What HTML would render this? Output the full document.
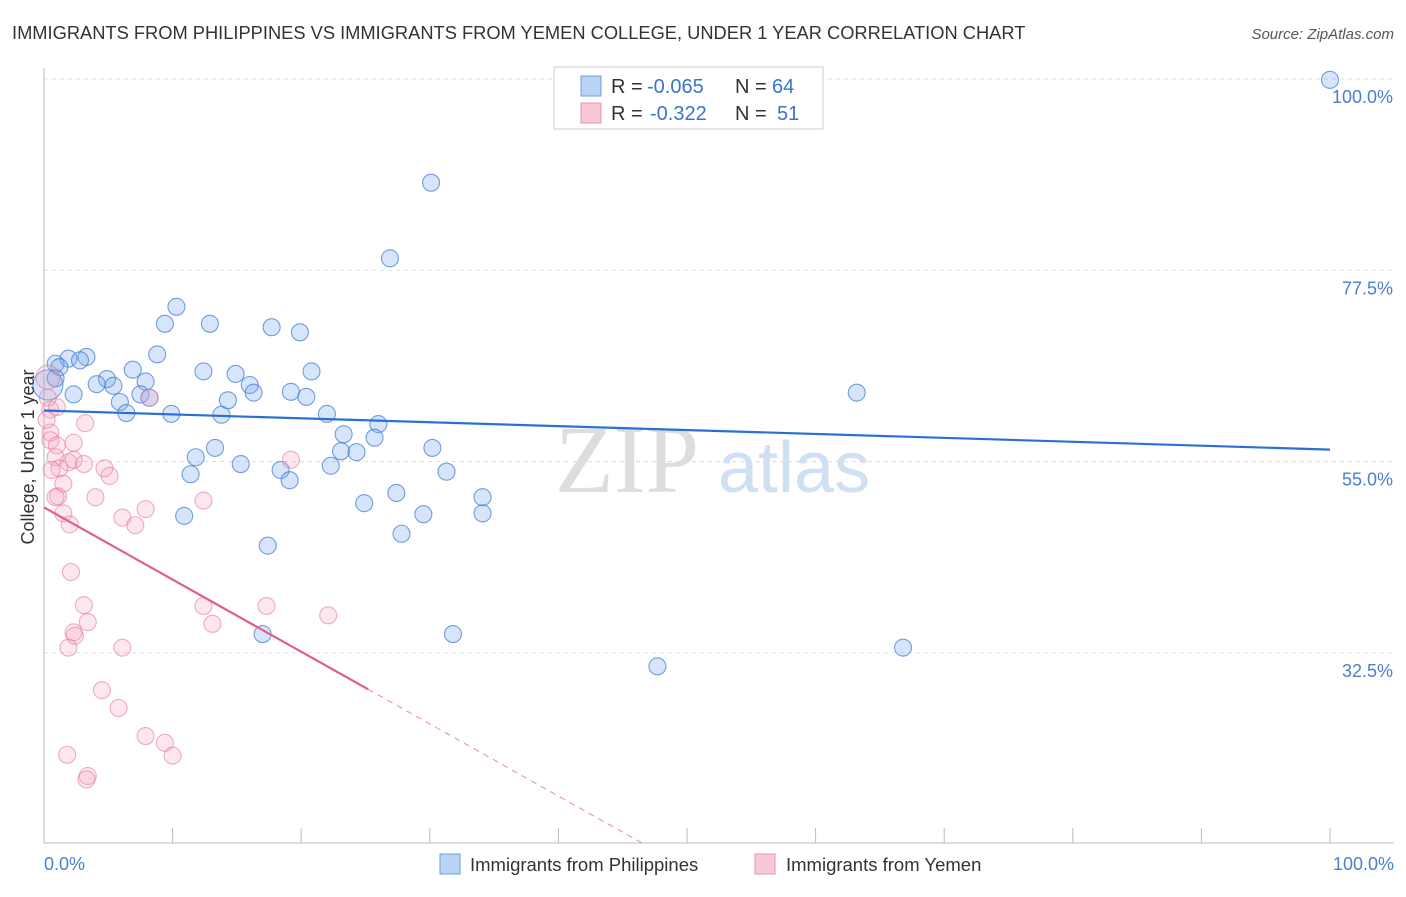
<!DOCTYPE html>
<html><head><meta charset="utf-8"><style>
body{margin:0;background:#fff;font-family:"Liberation Sans",sans-serif}
</style></head><body>
<svg width="1406" height="892" xmlns="http://www.w3.org/2000/svg" font-family="Liberation Sans, sans-serif">
<text x="12" y="39" font-size="18.3" fill="#333">IMMIGRANTS FROM PHILIPPINES VS IMMIGRANTS FROM YEMEN COLLEGE, UNDER 1 YEAR CORRELATION CHART</text>
<text x="1394" y="39" font-size="15" fill="#555" text-anchor="end" font-style="italic">Source: ZipAtlas.com</text>
<g>
<text x="555" y="492" font-size="96" fill="#ddd" font-family="Liberation Serif, serif">ZIP</text>
<text x="718" y="492" font-size="72" fill="#cfe0f3">atlas</text>
</g>
<g id="grid"></g>
<g id="axes"></g>
<g id="marks"></g>
<g>
<rect x="554" y="67" width="269" height="62" fill="#fff" stroke="#ccc"/>
<rect x="581" y="76" width="20" height="20" fill="#b8d3f3" stroke="#6f9fdc"/>
<rect x="581" y="103" width="20" height="20" fill="#f9c8d6" stroke="#e890ad"/>
<text x="611" y="93" font-size="20" fill="#333">R =</text>
<text x="647" y="93" font-size="20" fill="#3a74cc">-0.065</text>
<text x="735" y="93" font-size="20" fill="#333">N =</text>
<text x="772" y="93" font-size="20" fill="#3a74cc">64</text>
<text x="611" y="120" font-size="20" fill="#333">R =</text>
<text x="650" y="120" font-size="20" fill="#3a74cc">-0.322</text>
<text x="735" y="120" font-size="20" fill="#333">N =</text>
<text x="777" y="120" font-size="20" fill="#3a74cc">51</text>
</g>
<text transform="translate(34,457) rotate(-90)" font-size="18" fill="#333" text-anchor="middle">College, Under 1 year</text>
<text x="44" y="870" font-size="18" fill="#4a7fd0">0.0%</text>
<text x="1394" y="870" font-size="18" fill="#4a7fd0" text-anchor="end">100.0%</text>
<g>
<rect x="440" y="854" width="20" height="20" fill="#b8d3f3" stroke="#6f9fdc"/>
<text x="470" y="871" font-size="18.5" fill="#333">Immigrants from Philippines</text>
<rect x="755" y="854" width="20" height="20" fill="#f9c8d6" stroke="#e890ad"/>
<text x="786" y="871" font-size="18.5" fill="#333">Immigrants from Yemen</text>
</g>
</svg>
<script>
const yTicks=[100,77.5,55,32.5];
const yTickLabels=["100.0%","77.5%","55.0%","32.5%"];
const xTicks=[0,10,20,30,40,50,60,70,80,90,100];
const blueX=[100,30.1,26.9,10.3,9.4,12.9,17.7,19.9,8.8,3.3,1.9,2.8,0.9,1.2,6.9,12.4,20.8,14.9,4.9,7.9,4.1,5.4,16.0,16.3,19.2,2.3,7.5,8.2,14.3,20.4,5.9,63.2,6.4,9.9,13.8,22.0,26.0,23.3,25.7,13.3,30.2,23.1,24.3,11.8,15.3,22.3,18.4,31.3,11.4,19.1,27.4,34.1,24.9,29.5,34.1,10.9,27.8,17.4,17.0,31.8,47.7,66.8,0.3,0.9];
const blueY=[99.9,87.8,78.9,73.2,71.2,71.2,70.8,70.2,67.6,67.3,67.1,66.9,66.5,66.1,65.8,65.6,65.6,65.3,64.7,64.4,64.1,63.9,64.0,63.1,63.2,62.9,62.9,62.5,62.2,62.6,62.0,63.1,60.7,60.6,60.5,60.6,59.4,58.2,57.8,56.6,56.6,56.2,56.1,55.5,54.7,54.5,54.0,53.8,53.5,52.8,51.3,50.8,50.1,48.8,48.9,48.6,46.5,45.1,34.7,34.7,30.9,33.1,64.0,64.8];
const pinkX=[0.3,0.3,0.5,1.0,8.2,3.2,0.5,0.5,1.0,2.3,0.9,1.9,3.1,2.3,4.7,5.1,1.2,1.5,1.1,0.9,4.0,12.4,7.9,6.1,7.1,1.5,2.0,19.2,2.1,3.1,12.4,17.3,22.1,3.4,13.1,2.3,2.4,1.9,6.1,4.5,5.8,7.9,9.4,10.0,1.8,3.4,3.3,0.2,0.6];
const pinkY=[64.9,62.5,61.1,61.4,62.5,59.5,58.4,57.5,56.9,57.2,55.5,54.9,54.7,55.2,54.2,53.3,54.2,52.4,50.9,50.8,50.8,50.4,49.4,48.4,47.5,48.9,47.6,55.2,42.0,38.1,38.0,38.0,36.9,36.1,35.9,34.9,34.5,33.1,33.1,28.1,26.0,22.7,21.9,20.4,20.5,18.0,17.6,59.9,54.0];
const blueTrend=[61.0,56.4];
const pinkTrend=[49.6,-0.849];
const X=v=>44+v*12.86, Y=v=>79+(100-v)*8.5;
const NS="http://www.w3.org/2000/svg";
function mk(t,a,p){const e=document.createElementNS(NS,t);for(const k in a)e.setAttribute(k,a[k]);p.appendChild(e);return e;}
const grid=document.getElementById('grid'),axes=document.getElementById('axes'),marks=document.getElementById('marks');
yTicks.forEach((t,i)=>{
 const l=mk('line',{x1:44,x2:1394,y1:Y(t),y2:Y(t),stroke:'#ddd','stroke-dasharray':'4,4'},grid);
 
 
 const tx=mk('text',{x:1393,y:Y(t)+24,'font-size':18,fill:'#4a7fd0','text-anchor':'end'},axes);
 tx.textContent=yTickLabels[i];
 
 
});
const ya=mk('line',{x1:44,x2:44,y1:68,y2:843,stroke:'#bbb'},axes);


const xa=mk('line',{x1:44,x2:1394,y1:843,y2:843,stroke:'#bbb'},axes);


xTicks.forEach(t=>{
 const l=mk('line',{x1:X(t),x2:X(t),y1:828,y2:843,stroke:'#bbb'},axes);
 
 
});
blueX.forEach((v,i)=>{
 const big=(i==62);
 const c=mk('circle',{cx:X(v),cy:Y(blueY[i]),r:big?15:8.5,fill:'rgba(120,170,235,0.3)',stroke:'rgba(60,120,210,0.7)','stroke-width':1.1},marks);
 
 
});
pinkX.forEach((v,i)=>{
 const c=mk('circle',{cx:X(v),cy:Y(pinkY[i]),r:i==0?12:8.5,fill:'rgba(245,160,190,0.25)',stroke:'rgba(230,120,160,0.6)','stroke-width':1.1},marks);
 
 
});
const bt=mk('line',{x1:X(0),y1:Y(blueTrend[0]),x2:X(100),y2:Y(blueTrend[1]),stroke:'#2b6fd6','stroke-width':2.2},marks);


const pe=25.2;
const pt=mk('line',{x1:X(0),y1:Y(pinkTrend[0]),x2:X(pe),y2:Y(pinkTrend[0]+pinkTrend[1]*pe),stroke:'#e0608c','stroke-width':2.2},marks);


const xe=(pinkTrend[0]-10.1)/-pinkTrend[1];
const pd=mk('line',{x1:X(pe),y1:Y(pinkTrend[0]+pinkTrend[1]*pe),x2:X(xe),y2:Y(pinkTrend[0]+pinkTrend[1]*xe),stroke:'#e88aa8','stroke-width':1,'stroke-dasharray':'6,5'},marks);


</script>
</body></html>
